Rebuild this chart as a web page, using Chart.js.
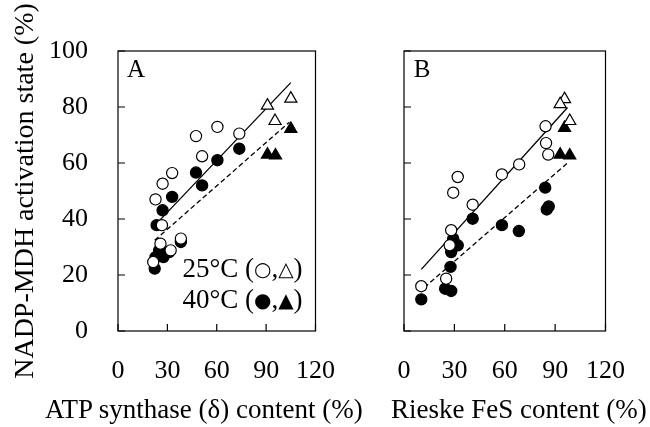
<!DOCTYPE html>
<html>
<head>
<meta charset="utf-8">
<script src="https://cdn.jsdelivr.net/npm/chart.js@4.4.0/dist/chart.umd.min.js"></script>
<style>
  body { margin: 0; background: #fff; }
  #wrap { position: relative; width: 650px; height: 427px; font-family: "Liberation Serif", "Times New Roman", serif; }
  canvas { position: absolute; top: 0; }
  #chartA { left: 0; width: 360px; height: 427px; }
  #chartB { left: 360px; width: 290px; height: 427px; }
  .xtitle { position: absolute; top: 396px; font-size: 27px; line-height: 27px; white-space: nowrap; color: #000; }
</style>
</head>
<body>
<div id="wrap">
  <canvas id="chartA" width="360" height="427"></canvas>
  <canvas id="chartB" width="290" height="427"></canvas>
  <div class="xtitle" style="left:45px">ATP synthase (δ) content (%)</div>
  <div class="xtitle" style="left:391px">Rieske FeS content (%)</div>
</div>
<script>
const xTicks = [0, 30, 60, 90, 120];
const yTicks = [0, 20, 40, 60, 80, 100];
const yTitle = "NADP-MDH activation state (%)";
// legend rows: [text, isSymbol]
const legend25 = [["25°C (", false], ["○", true], [",", false], ["△", true], [")", false]];
const legend40 = [["40°C (", false], ["●", true], [",", false], ["▲", true], [")", false]];

// A: ATP synthase (delta) content
const atpCirc25X = [47.4, 60.4, 73.7, 51.1, 32.9, 27.1, 22.8, 26.7, 38.2, 25.8, 32.0, 21.4];
const atpCirc25Y = [69.6, 72.9, 70.5, 62.4, 56.4, 52.6, 47.0, 37.8, 33.0, 31.2, 28.8, 24.6];
const atpTri25X = [90.8, 105.0, 95.4];
const atpTri25Y = [80.5, 83.0, 75.0];
const atpCirc40X = [73.7, 60.4, 47.4, 51.1, 32.9, 27.1, 23.5, 38.2, 25.0, 31.1, 22.8, 27.6, 22.3];
const atpCirc40Y = [65.1, 61.0, 56.6, 52.0, 47.9, 43.1, 37.8, 31.8, 28.8, 28.2, 26.4, 26.4, 22.3];
const atpTri40X = [105.0, 90.8, 95.7];
const atpTri40Y = [72.2, 63.0, 62.7];
const atpFit25X = [25.3, 105.0];
const atpFit25Y = [39.5, 88.7];
const atpFit40X = [22.3, 104.1];
const atpFit40Y = [32.4, 74.6];

// B: Rieske FeS content
const fesCirc25X = [84.3, 84.6, 85.9, 68.6, 58.3, 32.0, 29.3, 40.9, 28.1, 27.2, 25.1, 10.3];
const fesCirc25Y = [73.1, 67.1, 63.0, 59.5, 55.9, 55.0, 49.4, 45.1, 36.0, 30.6, 18.7, 16.0];
const fesTri25X = [95.6, 93.0, 98.7];
const fesTri25Y = [82.8, 81.0, 75.0];
const fesCirc40X = [40.9, 58.3, 68.4, 84.1, 85.0, 86.2, 29.3, 32.0, 28.1, 27.7, 24.5, 28.1, 10.3];
const fesCirc40Y = [40.1, 37.8, 35.7, 51.2, 43.4, 44.5, 33.0, 30.6, 28.2, 22.9, 15.1, 14.3, 11.3];
const fesTri40X = [95.6, 93.0, 98.7];
const fesTri40Y = [72.5, 63.0, 62.7];
const fesFit25X = [10.3, 97.4];
const fesFit25Y = [22.0, 79.8];
const fesFit40X = [12.1, 97.4];
const fesFit40Y = [15.5, 60.0];

const FONT = '"Liberation Serif", "Times New Roman", serif';
const SYMFONT = '"DejaVu Sans", sans-serif';

function pts(xs, ys) {
  return xs.map((x, i) => ({ x: x, y: ys[i] }));
}

function marks(xs, ys, style, filled, order) {
  return {
    data: pts(xs, ys),
    showLine: false,
    pointStyle: style,
    pointRadius: style === "triangle" ? 7 : 5.6,
    pointBorderWidth: 1.2,
    pointBorderColor: "#000",
    pointBackgroundColor: filled ? "#000" : "#fff",
    order: order,
  };
}

function fitLine(xs, ys, dash) {
  return {
    data: pts(xs, ys),
    showLine: true,
    borderColor: "#000",
    borderWidth: 1.3,
    borderDash: dash,
    pointRadius: 0,
    order: 5,
  };
}

function drawRow(ctx, parts, right, y) {
  const fontOf = (sym) => (sym ? "20px " + SYMFONT : "27px " + FONT);
  let total = 0;
  parts.forEach(([t, sym]) => {
    ctx.font = fontOf(sym);
    total += ctx.measureText(t).width;
  });
  let x = right - total;
  ctx.textAlign = "left";
  parts.forEach(([t, sym]) => {
    ctx.font = fontOf(sym);
    ctx.fillText(t, x, sym ? y + 1 : y);
    x += ctx.measureText(t).width;
  });
}

// box round the plot area plus inward tick marks
const frame = {
  id: "frame",
  afterDraw(chart) {
    const { ctx, chartArea: a, scales } = chart;
    ctx.save();
    ctx.strokeStyle = "#000";
    ctx.lineWidth = 1.2;
    ctx.strokeRect(a.left, a.top, a.right - a.left, a.bottom - a.top);
    ctx.beginPath();
    scales.x.ticks.forEach((t) => {
      const px = scales.x.getPixelForValue(t.value);
      ctx.moveTo(px, a.bottom);
      ctx.lineTo(px, a.bottom - 7);
    });
    scales.y.ticks.forEach((t) => {
      const py = scales.y.getPixelForValue(t.value);
      ctx.moveTo(a.left, py);
      ctx.lineTo(a.left + 7, py);
    });
    ctx.stroke();

    const o = chart.options.plugins.frame;
    ctx.fillStyle = "#000";
    ctx.textBaseline = "middle";
    ctx.font = "25px " + FONT;
    ctx.textAlign = "center";
    ctx.fillText(o.letter, a.left + 18, a.top + 19);
    if (o.legend) {
      drawRow(ctx, legend25, a.right - 13, 270);
      drawRow(ctx, legend40, a.right - 13, 301);
    }
    ctx.restore();
  },
};

function buildChart(id, datasets, opts) {
  return new Chart(document.getElementById(id), {
    type: "scatter",
    data: { datasets: datasets },
    plugins: [frame],
    options: {
      responsive: false,
      animation: false,
      layout: { padding: { top: 51, right: opts.right, bottom: 0, left: 0 } },
      plugins: {
        legend: { display: false },
        tooltip: { enabled: false },
        frame: { letter: opts.letter, legend: opts.legend },
      },
      scales: {
        x: {
          type: "linear",
          min: 0,
          max: 120,
          afterBuildTicks: (s) => { s.ticks = xTicks.map((v) => ({ value: v })); },
          afterFit: (s) => { s.height = 96; },
          grid: { display: false, drawTicks: false },
          border: { display: false },
          ticks: { color: "#000", padding: 25, font: { family: FONT, size: 26 } },
        },
        y: {
          type: "linear",
          min: 0,
          max: 100,
          afterBuildTicks: (s) => { s.ticks = yTicks.map((v) => ({ value: v })); },
          afterFit: (s) => { s.width = opts.axisWidth; },
          grid: { display: false, drawTicks: false },
          border: { display: false },
          ticks: { display: opts.yLabels, color: "#000", padding: 30, font: { family: FONT, size: 26 } },
          title: {
            display: opts.yLabels,
            text: yTitle,
            color: "#000",
            padding: { top: 9, bottom: 0 },
            font: { family: FONT, size: 28 },
          },
        },
      },
    },
  });
}

buildChart("chartA", [
  marks(atpCirc25X, atpCirc25Y, "circle", false, 1),
  marks(atpTri25X, atpTri25Y, "triangle", false, 1),
  marks(atpCirc40X, atpCirc40Y, "circle", true, 2),
  marks(atpTri40X, atpTri40Y, "triangle", true, 2),
  fitLine(atpFit25X, atpFit25Y, []),
  fitLine(atpFit40X, atpFit40Y, [5, 3]),
], { right: 16, axisWidth: 118, yLabels: true, letter: "A", legend: true });

buildChart("chartB", [
  marks(fesCirc25X, fesCirc25Y, "circle", false, 1),
  marks(fesTri25X, fesTri25Y, "triangle", false, 1),
  marks(fesCirc40X, fesCirc40Y, "circle", true, 2),
  marks(fesTri40X, fesTri40Y, "triangle", true, 2),
  fitLine(fesFit25X, fesFit25Y, []),
  fitLine(fesFit40X, fesFit40Y, [5, 3]),
], { right: 21, axisWidth: 44, yLabels: false, letter: "B", legend: false });
</script>
</body>
</html>
